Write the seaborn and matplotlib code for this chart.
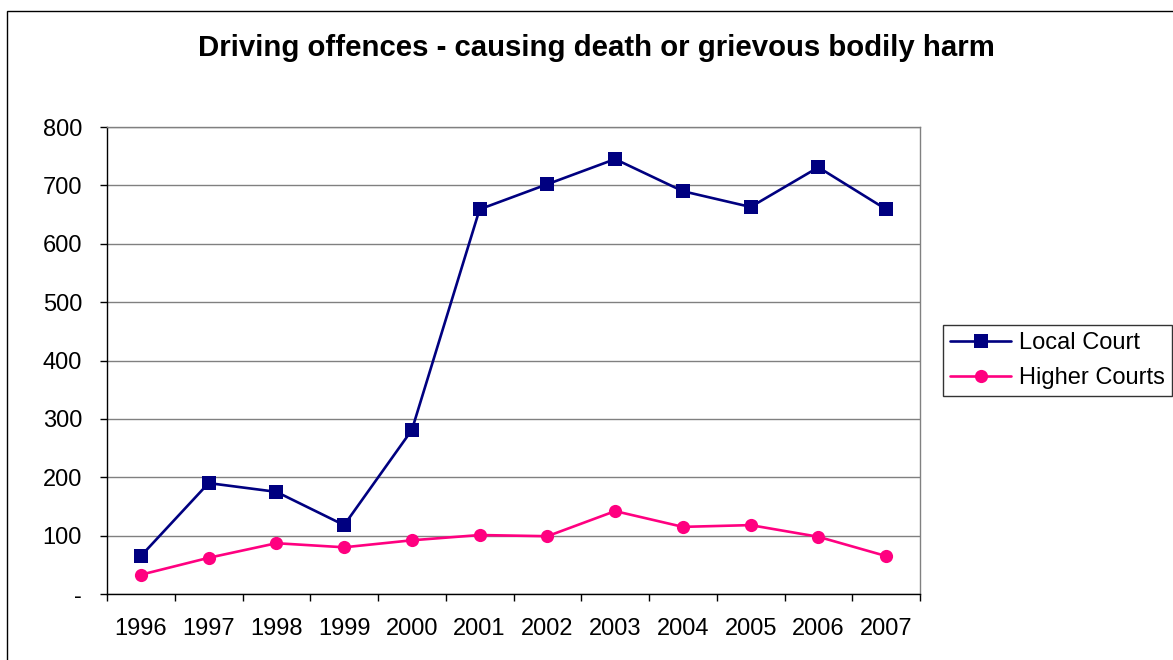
import pandas as pd
import seaborn as sns
import matplotlib.pyplot as plt
import matplotlib.ticker as mticker
from matplotlib.patches import Rectangle

years = ['1996', '1997', '1998', '1999', '2000', '2001',
         '2002', '2003', '2004', '2005', '2006', '2007']
local_court = [65, 190, 175, 118, 281, 659, 702, 745, 690, 663, 731, 659]
higher_courts = [33, 62, 87, 80, 92, 101, 99, 142, 115, 118, 98, 65]

df = pd.DataFrame({
    'year': years * 2,
    'value': local_court + higher_courts,
    'court': ['Local Court'] * len(years) + ['Higher Courts'] * len(years),
})

sns.set_theme(style='white')
plt.rcParams['font.family'] = ['Liberation Sans', 'DejaVu Sans']
plt.rcParams['text.color'] = 'black'
plt.rcParams['xtick.color'] = 'black'
plt.rcParams['ytick.color'] = 'black'

fig = plt.figure(figsize=(11.73, 6.6), dpi=100)
ax = fig.add_axes([107 / 1173, 66 / 660, 813 / 1173, 467 / 660])

sns.lineplot(
    data=df, x='year', y='value', hue='court', style='court',
    palette={'Local Court': '#000080', 'Higher Courts': '#FF0080'},
    markers={'Local Court': 's', 'Higher Courts': 'o'},
    dashes=False, markersize=9.5, linewidth=1.9, markeredgewidth=0,
    sort=False, ax=ax,
)

ax.set_xlim(-0.5, len(years) - 0.5)
ax.set_ylim(0, 800)
ax.set_xlabel('')
ax.set_ylabel('')

ax.yaxis.set_major_locator(mticker.MultipleLocator(100))
ax.yaxis.set_major_formatter(mticker.FuncFormatter(lambda v, p: '-' if v == 0 else f'{v:.0f}'))
ax.grid(axis='y', color='#808080', linewidth=1)
ax.set_axisbelow(True)

# ticks between the categories, labels in the middle
ax.xaxis.set_minor_locator(mticker.FixedLocator([i - 0.5 for i in range(len(years) + 1)]))
ax.tick_params(axis='x', which='major', length=0, pad=17, labelsize=17, colors='black')
ax.tick_params(axis='x', which='minor', length=5, width=1, direction='out', bottom=True, color='black')
ax.tick_params(axis='y', which='major', length=5, width=1, direction='out', left=True,
               labelsize=17, colors='black', pad=13)

for side in ['top', 'right']:
    ax.spines[side].set_color('#808080')
    ax.spines[side].set_linewidth(1)
for side in ['left', 'bottom']:
    ax.spines[side].set_color('black')
    ax.spines[side].set_linewidth(1)

handles, labels = ax.get_legend_handles_labels()
ax.legend(handles, labels, loc='upper left', bbox_to_anchor=(943 / 1173, 1 - 325 / 660),
          bbox_transform=fig.transFigure, frameon=True, fancybox=False, edgecolor='black',
          fontsize=17, borderpad=0.3, handlelength=2.6, handletextpad=0.3, labelspacing=0.55,
          borderaxespad=0)
ax.get_legend().get_frame().set_linewidth(1)

fig.text(596 / 1173, 1 - 48 / 660, 'Driving offences - causing death or grievous bodily harm',
         ha='center', va='center', fontsize=21.2, fontweight='bold', color='black')

fig.patches.append(Rectangle((7 / 1173, -0.1), 1.2, 1 - 11 / 660 + 0.1, transform=fig.transFigure,
                             fill=False, edgecolor='black', linewidth=1))

fig.savefig('out.png', dpi=100)
